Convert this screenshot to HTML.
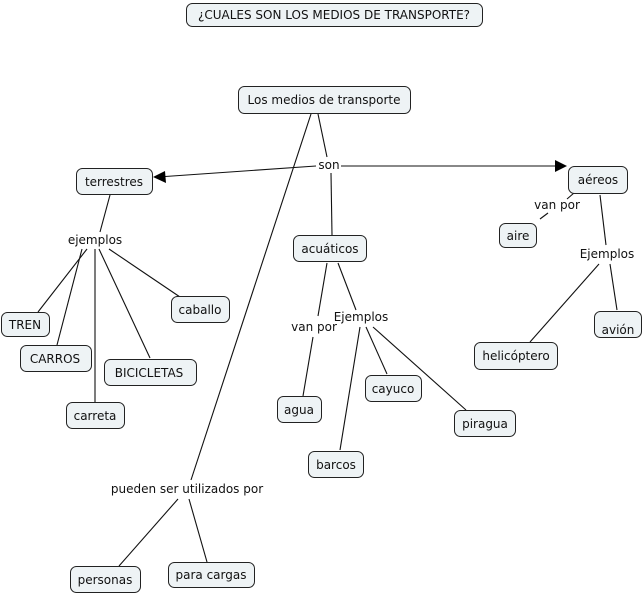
<!DOCTYPE html>
<html><head><meta charset="utf-8"><style>
html,body{margin:0;padding:0;background:#fff;}
svg{display:block;}
text{font-family:"DejaVu Sans","Liberation Sans",sans-serif;font-size:12px;fill:#111;}
.b{fill:#eef3f5;stroke:#222;stroke-width:1;}
.l{stroke:#111;stroke-width:1.1;fill:none;}
</style></head><body>
<svg width="644" height="597" viewBox="0 0 644 597" xmlns="http://www.w3.org/2000/svg">
<g class="l">
<line x1="318" y1="114" x2="327" y2="157"/>
<line x1="316" y1="166" x2="158" y2="177"/>
<line x1="341" y1="166" x2="558" y2="166"/>
<line x1="331" y1="173" x2="332" y2="235"/>
<line x1="311" y1="114" x2="191" y2="480"/>
<line x1="110" y1="195" x2="100" y2="232"/>
<line x1="87" y1="249" x2="38" y2="312"/>
<line x1="82" y1="249" x2="57" y2="345"/>
<line x1="95" y1="249" x2="95" y2="402"/>
<line x1="99" y1="249" x2="150" y2="358"/>
<line x1="109" y1="249" x2="180" y2="297"/>
<line x1="327" y1="263" x2="318" y2="316"/>
<line x1="313" y1="337" x2="303" y2="396"/>
<line x1="338" y1="263" x2="356" y2="310"/>
<line x1="360" y1="327" x2="340" y2="450"/>
<line x1="366" y1="327" x2="387" y2="374"/>
<line x1="373" y1="327" x2="466" y2="410"/>
<line x1="574" y1="193" x2="567" y2="199"/>
<line x1="548" y1="213" x2="540" y2="219"/>
<line x1="600" y1="195" x2="606" y2="245"/>
<line x1="599" y1="264" x2="530" y2="342"/>
<line x1="610" y1="264" x2="617" y2="310"/>
<line x1="178" y1="499" x2="119" y2="566"/>
<line x1="189" y1="499" x2="207" y2="562"/>
</g>
<polygon points="153,177 165,171 166,183" fill="#000"/>
<polygon points="567,166 555,160 555,172" fill="#000"/>
<rect class="b" x="186.5" y="3.5" width="296" height="23" rx="6"/>
<rect class="b" x="238.5" y="86.5" width="172" height="27" rx="6"/>
<rect class="b" x="76.5" y="168.5" width="76" height="26" rx="6"/>
<rect class="b" x="568.5" y="166.5" width="59" height="27" rx="6"/>
<rect class="b" x="293.5" y="235.5" width="73" height="26" rx="6"/>
<rect class="b" x="499.5" y="223.5" width="37" height="24" rx="6"/>
<rect class="b" x="1.5" y="312.5" width="48" height="24" rx="6"/>
<rect class="b" x="20.5" y="345.5" width="71" height="26" rx="6"/>
<rect class="b" x="104.5" y="359.5" width="92" height="26" rx="6"/>
<rect class="b" x="171.5" y="296.5" width="58" height="26" rx="6"/>
<rect class="b" x="66.5" y="402.5" width="58" height="26" rx="6"/>
<rect class="b" x="277.5" y="396.5" width="44" height="26" rx="6"/>
<rect class="b" x="365.5" y="375.5" width="56" height="26" rx="6"/>
<rect class="b" x="454.5" y="410.5" width="61" height="26" rx="6"/>
<rect class="b" x="308.5" y="451.5" width="55" height="26" rx="6"/>
<rect class="b" x="474.5" y="342.5" width="83" height="27" rx="6"/>
<rect class="b" x="594.5" y="311.5" width="47" height="26" rx="6"/>
<rect class="b" x="70.5" y="566.5" width="70" height="26" rx="6"/>
<rect class="b" x="168.5" y="562.5" width="86" height="25" rx="6"/>
<g text-anchor="middle">
<text x="334" y="19">¿CUALES SON LOS MEDIOS DE TRANSPORTE?</text>
<text x="324" y="104">Los medios de transporte</text>
<text x="114" y="186">terrestres</text>
<text x="598" y="184">aéreos</text>
<text x="330" y="253">acuáticos</text>
<text x="518" y="240">aire</text>
<text x="25" y="329">TREN</text>
<text x="55" y="363">CARROS</text>
<text x="149" y="377">BICICLETAS</text>
<text x="200" y="314">caballo</text>
<text x="95" y="420">carreta</text>
<text x="299" y="414">agua</text>
<text x="393" y="393">cayuco</text>
<text x="485" y="428">piragua</text>
<text x="336" y="469">barcos</text>
<text x="516" y="360">helicóptero</text>
<text x="618" y="334">avión</text>
<text x="105" y="584">personas</text>
<text x="211" y="579">para cargas</text>
<text x="329" y="169">son</text>
<text x="95" y="244">ejemplos</text>
<text x="557" y="209">van por</text>
<text x="607" y="258">Ejemplos</text>
<text x="314" y="331">van por</text>
<text x="361" y="321">Ejemplos</text>
<text x="187" y="493">pueden ser utilizados por</text>
</g>
</svg>
</body></html>
